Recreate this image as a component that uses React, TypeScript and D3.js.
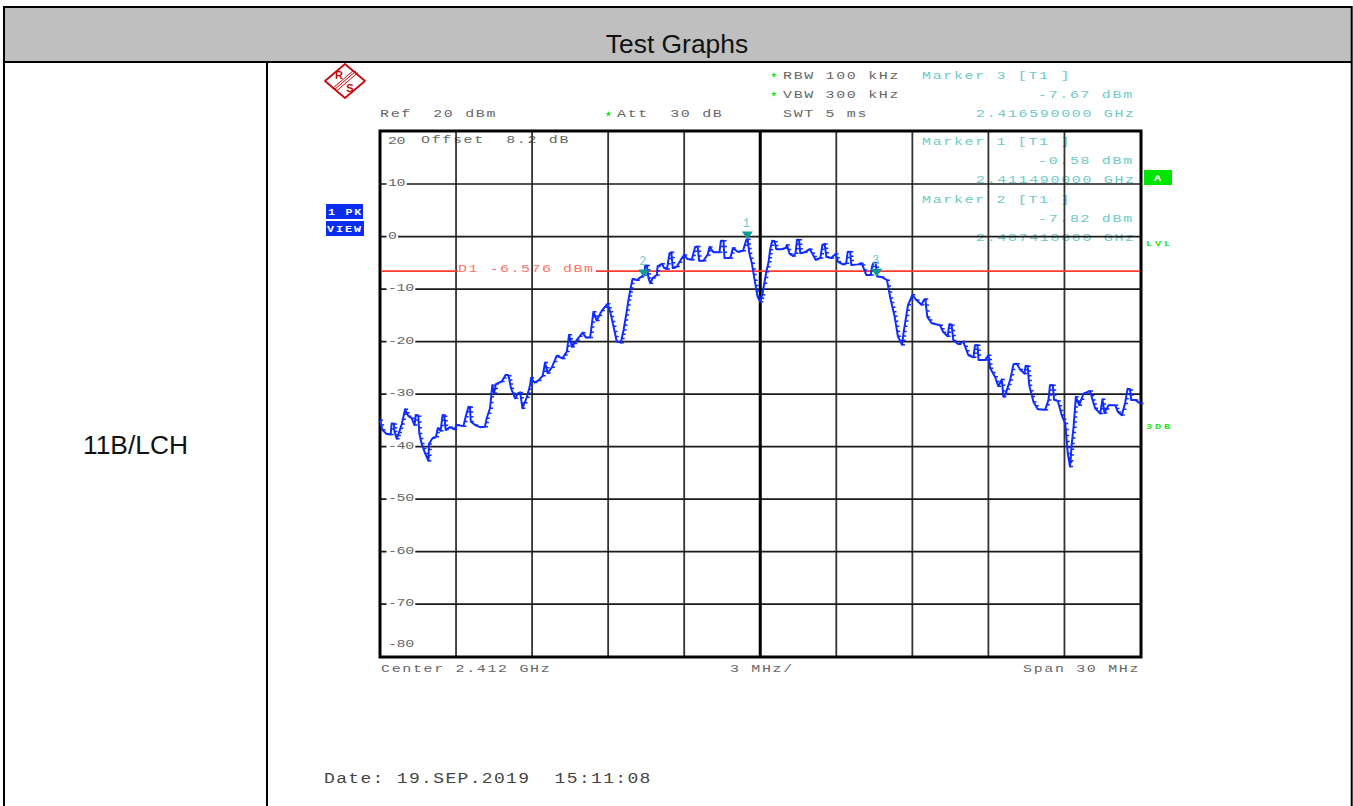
import React from "react";
import * as d3 from "d3";

// Trace 1: frequency offset from centre (MHz), level (dBm)
const traceMHz = [-15.00,-14.91,-14.74,-14.58,-14.54,-14.45,-14.43,-14.34,-14.25,-14.14,-14.01,-13.88,-13.75,-13.64,-13.59,-13.49,-13.45,-13.36,-13.22,-13.09,-13.07,-12.93,-12.79,-12.72,-12.61,-12.53,-12.46,-12.41,-12.24,-12.07,-11.97,-11.71,-11.62,-11.51,-11.45,-11.42,-11.25,-11.05,-10.86,-10.79,-10.66,-10.57,-10.50,-10.43,-10.20,-10.04,-9.93,-9.83,-9.67,-9.54,-9.47,-9.38,-9.21,-9.08,-9.04,-8.91,-8.75,-8.58,-8.49,-8.39,-8.22,-8.03,-7.80,-7.63,-7.54,-7.43,-7.24,-7.01,-6.88,-6.71,-6.58,-6.45,-6.25,-6.03,-5.92,-5.79,-5.66,-5.50,-5.39,-5.26,-5.20,-5.11,-5.04,-4.87,-4.71,-4.58,-4.54,-4.47,-4.41,-4.34,-4.24,-4.08,-4.05,-3.88,-3.79,-3.68,-3.58,-3.51,-3.45,-3.29,-3.09,-3.00,-2.87,-2.70,-2.57,-2.47,-2.41,-2.24,-2.08,-2.00,-1.84,-1.61,-1.55,-1.45,-1.41,-1.18,-1.08,-0.89,-0.68,-0.55,-0.50,-0.43,-0.33,-0.22,-0.11,0.00,0.08,0.16,0.24,0.33,0.39,0.47,0.57,0.63,0.83,1.00,1.05,1.16,1.29,1.39,1.45,1.53,1.58,1.75,1.95,2.05,2.18,2.37,2.45,2.54,2.61,2.80,2.97,3.07,3.26,3.39,3.45,3.55,3.59,3.86,3.96,4.03,4.18,4.36,4.41,4.47,4.55,4.61,4.78,5.00,5.13,5.30,5.43,5.59,5.66,5.83,6.00,6.16,6.36,6.45,6.51,6.59,6.76,7.09,7.22,7.39,7.46,7.55,7.62,7.82,8.01,8.21,8.41,8.47,8.57,8.61,8.87,9.00,9.07,9.26,9.39,9.53,9.59,9.68,9.86,9.99,10.12,10.25,10.42,10.47,10.55,10.61,10.78,10.95,11.24,11.37,11.43,11.54,11.59,11.74,11.89,12.03,12.13,12.22,12.29,12.36,12.45,12.58,12.75,13.01,13.11,13.21,13.41,13.50,13.58,13.74,14.00,14.11,14.26,14.39,14.49,14.59,14.63,14.79,15.00];
const traceDbm = [-35.0,-36.8,-37.6,-37.7,-35.6,-35.7,-37.1,-38.5,-37.3,-35.7,-32.9,-34.2,-34.6,-35.9,-34.0,-34.2,-37.5,-39.4,-41.3,-42.7,-39.5,-38.4,-38.1,-36.5,-37.0,-34.0,-34.2,-36.8,-36.3,-36.7,-35.9,-36.1,-34.3,-32.4,-32.5,-35.2,-35.9,-36.3,-36.2,-34.6,-32.7,-28.3,-29.8,-28.1,-27.6,-26.3,-26.5,-28.9,-30.8,-29.8,-29.7,-32.7,-30.6,-28.3,-26.9,-27.8,-27.4,-26.5,-24.0,-26.0,-24.9,-22.7,-23.2,-21.9,-18.7,-21.0,-19.7,-18.3,-19.2,-19.2,-14.3,-16.0,-14.1,-12.8,-14.3,-17.1,-20.0,-20.2,-17.8,-14.0,-12.1,-9.8,-8.1,-8.3,-7.7,-7.3,-5.6,-5.5,-7.9,-8.9,-7.9,-7.3,-5.7,-5.2,-6.0,-6.2,-3.2,-3.0,-6.0,-5.7,-4.1,-3.5,-4.3,-4.4,-2.0,-1.9,-4.6,-4.6,-3.5,-2.0,-3.0,-3.0,-0.8,-0.8,-4.1,-4.1,-2.2,-2.9,-2.7,-0.6,-0.5,-3.2,-5.1,-8.3,-11.4,-12.4,-11.1,-8.9,-6.7,-4.8,-2.5,-0.8,-1.0,-2.4,-2.4,-2.2,-1.6,-3.3,-3.7,-3.2,-0.6,-0.6,-3.2,-3.0,-2.4,-3.2,-4.4,-4.1,-1.6,-1.4,-3.9,-4.1,-3.3,-4.8,-5.3,-5.1,-2.9,-2.9,-5.4,-5.3,-5.1,-5.4,-7.3,-7.3,-5.7,-5.0,-5.0,-7.6,-7.7,-8.3,-11.7,-15.2,-19.0,-20.6,-18.1,-13.0,-11.1,-12.1,-13.0,-12.1,-11.9,-15.3,-16.5,-16.9,-18.2,-19.0,-16.7,-16.9,-19.8,-20.5,-20.0,-22.6,-23.0,-20.7,-20.7,-23.5,-23.5,-22.6,-25.1,-26.7,-28.5,-27.2,-30.5,-29.9,-27.3,-24.3,-24.2,-25.3,-26.1,-24.6,-24.7,-28.3,-31.5,-32.9,-33.0,-31.1,-28.3,-28.3,-31.1,-31.3,-34.0,-35.6,-41.3,-43.8,-39.4,-36.3,-30.5,-32.1,-29.9,-29.4,-31.1,-32.7,-33.7,-31.0,-33.6,-32.1,-32.1,-33.4,-34.0,-31.8,-29.0,-29.2,-31.1,-31.1,-31.8];

const gridMHz = [-12,-9,-6,-3,3,6,9,12];
const gridDbm = [10,0,-10,-20,-30,-40,-50,-60,-70];
const allDbmLabels = [20,10,0,-10,-20,-30,-40,-50,-60,-70,-80];
const markerIds = ["1","2","3"];
const markerMHz = [-0.51,-4.59,4.59];
const markerDbm = [-0.58,-7.82,-7.67];
const displayLine = -6.576;

const x = d3.scaleLinear().domain([-15,15]).range([380,1140.5]);
const y = d3.scaleLinear().domain([20,-80]).range([131.5,656.7]);
const pts: [number,number][] = traceMHz.map((f,i)=>[x(f),y(traceDbm[i])]);
const tracePath = d3.line()(pts) as string;

const dashPath = (() => {
  let d = "";
  pts.forEach((p,i)=>{
    d += `M${p[0]},${p[1]}h3`;
    if(i===0) return;
    const q = pts[i-1];
    const n = Math.floor(Math.abs(p[1]-q[1])/6);
    for(let k=1;k<=n;k++){
      const t=k/(n+1);
      d += `M${q[0]+(p[0]-q[0])*t},${q[1]+(p[1]-q[1])*t}h3`;
    }
  });
  return d;
})();

const MONO = "'Liberation Mono', monospace";
const GREY = "#666666";
const CYAN = "#6cc9c9";
const GREEN = "#19e619";
const SX = 1.3;

function T({tx,ty,s,fill=GREY,pitch=10.65,size=11.5,weight="normal",sx=SX}:{tx:number,ty:number,s:string,fill?:string,pitch?:number,size?:number,weight?:string,sx?:number}){
  const adv = size*0.6;
  return <text transform={`translate(${tx},${ty}) scale(${sx},1)`} fontFamily={MONO} fontSize={size} fontWeight={weight} fill={fill}
    letterSpacing={pitch/sx-adv} style={{whiteSpace:"pre"}}>{s}</text>;
}
function Star({cx,cy}:{cx:number,cy:number}){
  const p = d3.range(10).map(i=>{const r=i%2?1.2:3;const a=-Math.PI/2+i*Math.PI/5;return `${cx+r*Math.cos(a)},${cy+r*Math.sin(a)}`}).join(" ");
  return <polygon points={p} fill={GREEN}/>;
}

export default function App(){
  const lvl = y(displayLine);
  return (
    <svg width={1353} height={806} style={{position:"absolute",left:0,top:0,display:"block",background:"#fff"}}>
      {/* table */}
      <rect x={4} y={7} width={1347} height={54} fill="#bfbfbf"/>
      <path d="M3,7H1352.7M3,62H1352.7M4,6V806M267,62V806M1351.7,6V806" stroke="#000" strokeWidth={2} fill="none"/>
      <text x={677} y={52.5} textAnchor="middle" fontFamily="'Liberation Sans',Arial,sans-serif" fontSize={26.4} fill="#111">Test Graphs</text>
      <text x={135.5} y={454} textAnchor="middle" fontFamily="'Liberation Sans',Arial,sans-serif" fontSize={26.4} fill="#111">11B/LCH</text>

      {/* logo */}
      <g stroke="#c80a0a" fill="none">
        <path d="M325,81L345,64L365,81L345,98Z" strokeWidth={1.8} strokeLinejoin="round"/>
        <path d="M334,90L356,71M336,91.5L358,72.5M332.5,88.5L354,70" strokeWidth={1}/>
        <text x={339} y={79} textAnchor="middle" fontFamily="'Liberation Sans',sans-serif" fontWeight="bold" fontSize={11} fill="#c80a0a" stroke="none">R</text>
        <text x={350} y={92} textAnchor="middle" fontFamily="'Liberation Sans',sans-serif" fontWeight="bold" fontSize={11} fill="#c80a0a" stroke="none">S</text>
      </g>

      {/* header */}
      <Star cx={774} cy={75}/><Star cx={774} cy={94}/><Star cx={608.5} cy={114}/>
      <T tx={380} ty={117} s="Ref  20 dBm"/>
      <T tx={617} ty={117} s="Att  30 dB"/>
      <T tx={783} ty={78.5} s="RBW 100 kHz"/>
      <T tx={783} ty={97.5} s="VBW 300 kHz"/>
      <T tx={783} ty={117} s="SWT 5 ms"/>
      <T tx={922} ty={78.5} s="Marker 3 [T1 ]" fill={CYAN}/>
      <T tx={1038} ty={97.5} s="-7.67 dBm" fill={CYAN}/>
      <T tx={976} ty={117} s="2.416590000 GHz" fill={CYAN}/>
      <T tx={922} ty={144.5} s="Marker 1 [T1 ]" fill={CYAN}/>
      <T tx={1038} ty={163.5} s="-0.58 dBm" fill={CYAN}/>
      <T tx={976} ty={183} s="2.411490000 GHz" fill={CYAN}/>
      <T tx={922} ty={202.5} s="Marker 2 [T1 ]" fill={CYAN}/>
      <T tx={1038} ty={221.5} s="-7.82 dBm" fill={CYAN}/>
      <T tx={976} ty={241} s="2.407410000 GHz" fill={CYAN}/>
      <T tx={421} ty={143} s="Offset  8.2 dB"/>

      {/* grid */}
      {gridMHz.map(f=><line key={f} x1={x(f)} x2={x(f)} y1={131} y2={657} stroke="#333" strokeWidth={1.8}/>)}
      {gridDbm.map(d=><line key={d} x1={380} x2={1141} y1={y(d)} y2={y(d)} stroke="#1a1a1a" strokeWidth={1.7}/>)}
      <line x1={x(0)} x2={x(0)} y1={131} y2={657} stroke="#000" strokeWidth={3}/>
      <rect x={380} y={131} width={761} height={526} fill="none" stroke="#000" strokeWidth={3}/>

      {/* y labels */}
      {allDbmLabels.map(d=>{
        const s = String(d);
        const w = s.length*8.6+3;
        const inGrid = gridDbm.includes(d);
        const by = d===20?144:d===-80?647:y(d)+2;
        return <g key={d}>
          {inGrid && <rect x={386.5} y={y(d)-2} width={w} height={4} fill="#fff"/>}
          <T tx={388} ty={by} s={s} pitch={8.6}/>
        </g>;
      })}

      {/* display line */}
      <line x1={381} x2={458} y1={lvl} y2={lvl} stroke="#ff3b30" strokeWidth={1.6}/>
      <line x1={596} x2={1140} y1={lvl} y2={lvl} stroke="#ff3b30" strokeWidth={1.6}/>
      <T tx={458} ty={271.5} s="D1 -6.576 dBm" fill="#ff6f66" pitch={10.5}/>

      {/* trace */}
      <path d={tracePath} fill="none" stroke="#0f2dff" strokeWidth={2} strokeLinejoin="round"/>
      <path d={dashPath} fill="none" stroke="#0f2dff" strokeWidth={1.5}/>

      {/* markers */}
      {markerIds.map((id,i)=>{
        const mx = x(markerMHz[i]), my = y(markerDbm[i]);
        return <g key={id}>
          <path d={`M${mx-5.5},${my-8}h11L${mx},${my}Z`} fill="#0b9a96"/>
          <text x={mx-1} y={my-12.5} textAnchor="middle" fontFamily={MONO} fontSize={12} fill={CYAN}>{id}</text>
        </g>;
      })}

      {/* side boxes */}
      <rect x={326} y={204} width={37} height={15} fill="#0a2df0"/>
      <rect x={326} y={221} width={38} height={15} fill="#0a2df0"/>
      <T tx={328} ty={215} s="1 PK" fill="#fff" pitch={8.8} size={9} weight="bold"/>
      <T tx={327} ty={232} s="VIEW" fill="#fff" pitch={9} size={9} weight="bold"/>
      <rect x={1144} y={170} width={28} height={15} fill="#00e600"/>
      <T tx={1154} ty={181} s="A" fill="#fff" size={9} weight="bold"/>
      <T tx={1146} ty={246} s="LVL" fill={GREEN} pitch={9} size={8} weight="bold"/>
      <T tx={1146} ty={429} s="3DB" fill={GREEN} pitch={9} size={8} weight="bold"/>

      {/* footer */}
      <T tx={381} ty={672} s="Center 2.412 GHz"/>
      <T tx={730} ty={672} s="3 MHz/"/>
      <T tx={1023} ty={672} s="Span 30 MHz"/>
      <T tx={324} ty={783} s="Date: 19.SEP.2019  15:11:08" fill="#444" pitch={12.15} size={15} sx={1.2}/>
    </svg>
  );
}
